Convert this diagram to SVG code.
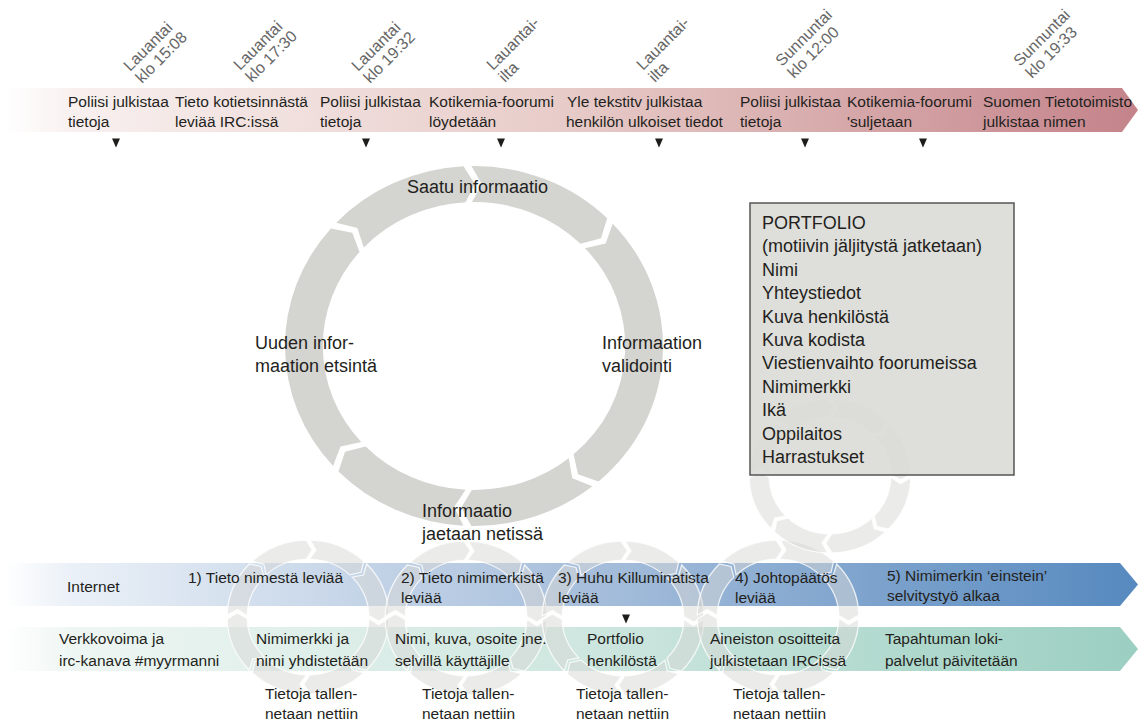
<svg xmlns="http://www.w3.org/2000/svg" xmlns:xlink="http://www.w3.org/1999/xlink" width="1139" height="722" viewBox="0 0 1139 722">
<style>
text{font-family:"Liberation Sans",Arial,sans-serif;fill:#231f20}
.t{font-size:15.5px}
.d{font-size:16px;fill:#666}
.c{font-size:18px}
.big{fill:#d4d4d0}
.sm{fill:#d8d8d5;fill-opacity:.5;stroke:#fff;stroke-width:1.2;stroke-opacity:.8}
.tri{fill:#1d1d1b}
</style>
<defs>
<linearGradient id="gTop" x1="0" y1="0" x2="1" y2="0">
<stop offset="0" stop-color="#ffffff"/>
<stop offset="0.06" stop-color="#f8f0ef"/>
<stop offset="0.5" stop-color="#e7cbc8"/>
<stop offset="1" stop-color="#c4838a"/>
</linearGradient>
<linearGradient id="gBlue" x1="0" y1="0" x2="1" y2="0">
<stop offset="0" stop-color="#ffffff"/>
<stop offset="0.06" stop-color="#eaf0f7"/>
<stop offset="0.5" stop-color="#a9c0dc"/>
<stop offset="1" stop-color="#5689bf"/>
</linearGradient>
<linearGradient id="gGreen" x1="0" y1="0" x2="1" y2="0">
<stop offset="0" stop-color="#ffffff"/>
<stop offset="0.06" stop-color="#eef6f3"/>
<stop offset="0.5" stop-color="#cfe7e0"/>
<stop offset="1" stop-color="#9bcfc1"/>
</linearGradient>
<path id="seg" class="sm" d="M76.97,2.02 A77,77 0 0 1 55.85,53.00 L44.73,50.55 L42.07,39.92 A58,58 0 0 0 57.98,1.52 L67.07,7.64 Z"/>
<g id="ring">
<use href="#seg"/>
<use href="#seg" transform="rotate(45)"/>
<use href="#seg" transform="rotate(90)"/>
<use href="#seg" transform="rotate(135)"/>
<use href="#seg" transform="rotate(180)"/>
<use href="#seg" transform="rotate(225)"/>
<use href="#seg" transform="rotate(270)"/>
<use href="#seg" transform="rotate(315)"/>
</g>
<path id="tri" class="tri" d="M-4,-4.5H4L0,4.5Z"/>
</defs>

<g id="timeline">
<path d="M5,88 H1122 L1138,110 L1122,132 H5 Z" fill="url(#gTop)"/>
</g>

<g id="dates">
<g transform="translate(130,72) rotate(-45)"><text class="d">Lauantai</text><text class="d" y="17">klo 15:08</text></g>
<g transform="translate(240,71) rotate(-45)"><text class="d">Lauantai</text><text class="d" y="17">klo 17:30</text></g>
<g transform="translate(358,72) rotate(-45)"><text class="d">Lauantai</text><text class="d" y="17">klo 19:32</text></g>
<g transform="translate(493,71) rotate(-45)"><text class="d">Lauantai-</text><text class="d" y="17">ilta</text></g>
<g transform="translate(643,71) rotate(-45)"><text class="d">Lauantai-</text><text class="d" y="17">ilta</text></g>
<g transform="translate(782,67) rotate(-45)"><text class="d">Sunnuntai</text><text class="d" y="17">klo 12:00</text></g>
<g transform="translate(1020,67) rotate(-45)"><text class="d">Sunnuntai</text><text class="d" y="17">klo 19:33</text></g>
</g>

<g id="ev1"><text class="t" x="68" y="107">Poliisi julkistaa</text><text class="t" x="68" y="127">tietoja</text></g>
<g id="ev2"><text class="t" x="175" y="107">Tieto kotietsinnästä</text><text class="t" x="175" y="127">leviää IRC:issä</text></g>
<g id="ev3"><text class="t" x="320" y="107">Poliisi julkistaa</text><text class="t" x="320" y="127">tietoja</text></g>
<g id="ev4"><text class="t" x="429" y="107">Kotikemia-foorumi</text><text class="t" x="429" y="127">löydetään</text></g>
<g id="ev5"><text class="t" x="567" y="107">Yle tekstitv julkistaa</text><text class="t" x="566" y="127">henkilön ulkoiset tiedot</text></g>
<g id="ev6"><text class="t" x="740" y="107">Poliisi julkistaa</text><text class="t" x="740" y="127">tietoja</text></g>
<g id="ev7"><text class="t" x="847" y="107">Kotikemia-foorumi</text><text class="t" x="847" y="127">'suljetaan</text></g>
<g id="ev8"><text class="t" x="983" y="107">Suomen Tietotoimisto</text><text class="t" x="983" y="127">julkistaa nimen</text></g>

<g id="cycle" transform="translate(474,346) scale(1.05,1)">
<path class="big" d="M-2.51,-179.98 A180,180 0 0 1 126.83,-127.72 L120.96,-107.77 L101.47,-102.18 A144,144 0 0 0 -2.01,-143.99 L7.63,-161.82 Z"/>
<path class="big" d="M132.07,-122.30 A180,180 0 0 1 118.56,135.44 L99.07,128.18 L94.85,108.35 A144,144 0 0 0 105.66,-97.84 L125.36,-102.61 Z"/>
<path class="big" d="M112.79,140.28 A180,180 0 0 1 -2.51,179.98 L-12.15,161.54 L-2.01,143.99 A144,144 0 0 0 90.23,112.23 L93.61,132.22 Z"/>
<path class="big" d="M-10.05,179.72 A180,180 0 0 1 -129.05,125.49 L-122.83,105.65 L-103.24,100.39 A144,144 0 0 0 -8.04,143.78 L-18.90,160.89 Z"/>
<path class="big" d="M-134.19,119.98 A180,180 0 0 1 -136.26,-117.62 L-115.94,-113.15 L-109.01,-94.09 A144,144 0 0 0 -107.35,95.98 L-127.14,100.41 Z"/>
<path class="big" d="M-131.21,-123.22 A180,180 0 0 1 -10.05,-179.72 L0.85,-162.00 L-8.04,-143.78 A144,144 0 0 0 -104.97,-98.58 L-111.10,-117.90 Z"/>
</g>
<g id="c1"><text class="c" x="407" y="193">Saatu informaatio</text></g>
<g id="c2"><text class="c" x="602" y="349">Informaation</text><text class="c" x="602" y="372">validointi</text></g>
<g id="c3"><text class="c" x="422" y="517">Informaatio</text><text class="c" x="422" y="540">jaetaan netissä</text></g>
<g id="c4"><text class="c" x="255" y="349">Uuden infor-</text><text class="c" x="255" y="372">maation etsintä</text></g>

<g id="internet-band"><path d="M5,563 H1120 L1138,584.5 L1120,606 H5 Z" fill="url(#gBlue)"/></g>
<g id="effect-band"><path d="M5,627 H1120 L1138,649 L1120,671 H5 Z" fill="url(#gGreen)"/></g>

<g id="small-cycles">
<use href="#ring" transform="translate(308,617) scale(1.05,1)"/>
<use href="#ring" transform="translate(466,618) scale(1.05,1)"/>
<use href="#ring" transform="translate(623,618) scale(1.05,1)"/>
<use href="#ring" transform="translate(778,617) scale(1.05,1)"/>
<use href="#ring" transform="translate(830,476) scale(1.05,1)"/>
</g>

<g id="portfolio">
<rect x="750" y="203" width="264" height="272" fill="#dadad6" fill-opacity="0.9" stroke="#555" stroke-width="1.5"/>
<text class="c" x="762" y="229">PORTFOLIO</text>
<text class="c" x="762" y="252.4">(motiivin jäljitystä jatketaan)</text>
<text class="c" x="762" y="275.8">Nimi</text>
<text class="c" x="762" y="299.2">Yhteystiedot</text>
<text class="c" x="762" y="322.6">Kuva henkilöstä</text>
<text class="c" x="762" y="346">Kuva kodista</text>
<text class="c" x="762" y="369.4">Viestienvaihto foorumeissa</text>
<text class="c" x="762" y="392.8">Nimimerkki</text>
<text class="c" x="762" y="416.2">Ikä</text>
<text class="c" x="762" y="439.6">Oppilaitos</text>
<text class="c" x="762" y="463">Harrastukset</text>
</g>

<g id="net0"><text class="t" x="67" y="592">Internet</text></g>
<g id="net1"><text class="t" x="188" y="583">1) Tieto nimestä leviää</text></g>
<g id="net2"><text class="t" x="401" y="583">2) Tieto nimimerkistä</text><text class="t" x="401" y="603">leviää</text></g>
<g id="net3"><text class="t" x="558" y="583">3) Huhu Killuminatista</text><text class="t" x="558" y="603">leviää</text></g>
<g id="net4"><text class="t" x="735" y="583">4) Johtopäätös</text><text class="t" x="735" y="603">leviää</text></g>
<g id="net5"><text class="t" x="887" y="581">5) Nimimerkin ‘einstein’</text><text class="t" x="887" y="601">selvitystyö alkaa</text></g>

<g id="eff0"><text class="t" x="59" y="644">Verkkovoima ja</text><text class="t" x="59" y="666">irc-kanava #myyrmanni</text></g>
<g id="eff1"><text class="t" x="256" y="644">Nimimerkki ja</text><text class="t" x="256" y="666">nimi yhdistetään</text></g>
<g id="eff2"><text class="t" x="395" y="644">Nimi, kuva, osoite jne.</text><text class="t" x="395" y="666">selvillä käyttäjille</text></g>
<g id="eff3"><text class="t" x="587" y="644">Portfolio</text><text class="t" x="587" y="666">henkilöstä</text></g>
<g id="eff4"><text class="t" x="710" y="644">Aineiston osoitteita</text><text class="t" x="710" y="666">julkistetaan IRCissä</text></g>
<g id="eff5"><text class="t" x="885" y="644">Tapahtuman loki-</text><text class="t" x="885" y="666">palvelut päivitetään</text></g>

<g id="store1"><text class="t" x="265" y="699">Tietoja tallen-</text><text class="t" x="265" y="719">netaan nettiin</text></g>
<g id="store2"><text class="t" x="422" y="699">Tietoja tallen-</text><text class="t" x="422" y="719">netaan nettiin</text></g>
<g id="store3"><text class="t" x="576" y="699">Tietoja tallen-</text><text class="t" x="576" y="719">netaan nettiin</text></g>
<g id="store4"><text class="t" x="733" y="699">Tietoja tallen-</text><text class="t" x="733" y="719">netaan nettiin</text></g>

<g id="connectors">
<use href="#tri" x="116" y="143"/>
<use href="#tri" x="366" y="143"/>
<use href="#tri" x="501" y="143"/>
<use href="#tri" x="659" y="143"/>
<use href="#tri" x="805" y="143"/>
<use href="#tri" x="923" y="143"/>
<use href="#tri" x="626" y="619"/>
</g>
</svg>
